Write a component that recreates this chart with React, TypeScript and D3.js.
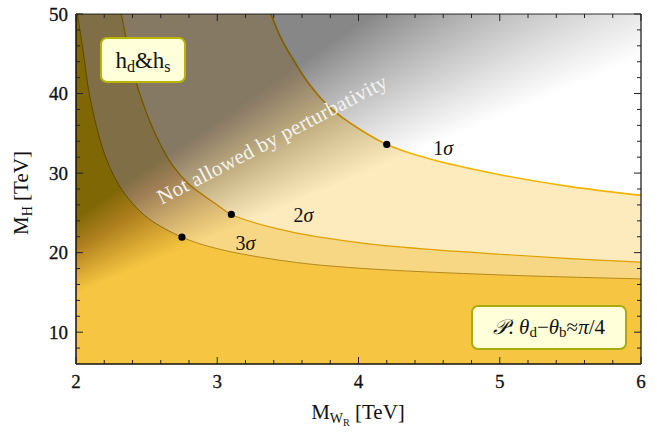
import React from "react";
import * as d3 from "d3";

const W = 657;
const H = 433;

const xDomain = [2, 6];
const yDomain = [6, 50];
const xTicks = [2, 3, 4, 5, 6];
const yTicks = [10, 20, 30, 40, 50];
const xMinorTicks = [2.2, 2.4, 2.6, 2.8, 3.2, 3.4, 3.6, 3.8, 4.2, 4.4, 4.6, 4.8, 5.2, 5.4, 5.6, 5.8];
const yMinorTicks = [8, 12, 14, 16, 18, 22, 24, 26, 28, 32, 34, 36, 38, 42, 44, 46, 48];

// contour curves (M_WR [TeV], M_H [TeV])
const sigma1X = [3.38, 3.45, 3.54, 3.65, 3.8, 4.0, 4.2, 4.5, 5.0, 5.5, 6.0];
const sigma1Y = [50, 47, 44.2, 41.2, 38.2, 35.6, 33.6, 31.8, 29.8, 28.3, 27.2];
const sigma2X = [2.32, 2.36, 2.4, 2.5, 2.6, 2.69, 2.8, 3.0, 3.1, 3.5, 4.0, 4.5, 5.0, 5.5, 6.0];
const sigma2Y = [50, 46.5, 43, 37.5, 33.5, 30.8, 28.6, 26.0, 24.8, 22.7, 21.25, 20.4, 19.8, 19.25, 18.8];
const sigma3X = [2.01, 2.05, 2.1, 2.2, 2.3, 2.4, 2.52, 2.75, 3.0, 3.5, 4.0, 5.0, 6.0];
const sigma3Y = [50, 45.4, 39.4, 32.5, 28.6, 26.2, 24.2, 21.95, 20.5, 18.9, 18.05, 17.2, 16.7];

const dotX = [4.2, 3.1, 2.75];
const dotY = [33.6, 24.8, 21.95];
const sigmaLabels = ["1", "2", "3"];
const sigmaLabelX = [4.6, 3.61, 3.2];
const sigmaLabelY = [33.1, 24.7, 21.2];

// perturbativity shading: ratio M_H / M_WR where shading fades in
const ratioStart = 7.4;
const ratioEnd = 12.2;

const SERIF = "'Liberation Serif', 'DejaVu Serif', serif";

export default function App() {
  const x = d3.scaleLinear().domain(xDomain).range([76, 641]);
  const y = d3.scaleLinear().domain(yDomain).range([364, 14]);
  const line = d3
    .line<[number, number]>()
    .x((d) => x(d[0]))
    .y((d) => y(d[1]))
    .curve(d3.curveCatmullRom.alpha(0.5));
  const pts = (xs: number[], ys: number[]): [number, number][] => xs.map((v, i) => [v, ys[i]] as [number, number]);
  const c1 = pts(sigma1X, sigma1Y);
  const c2 = pts(sigma2X, sigma2Y);
  const c3 = pts(sigma3X, sigma3Y);
  const areaPath = (p: [number, number][]) =>
    (line(p) as string) + `L${x(6)},${y(6)}L${x(2)},${y(6)}L${x(2)},${y(50)}Z`;

  const N = 60;
  const maxA = 0.4;
  const op = 1 - Math.pow(1 - maxA, 1 / N);
  const layers = d3.range(N).map((k) => ratioStart + ((ratioEnd - ratioStart) * (k + 0.5)) / N);

  const x0 = 76, x1 = 641, yT = 14, yB = 364;

  return (
    <svg width={W} height={H} style={{ position: "absolute", left: 0, top: 0, background: "#fff" }}>
      <defs>
        <clipPath id="plotClip">
          <rect x={x0} y={yT} width={x1 - x0} height={yB - yT} />
        </clipPath>
      </defs>
      <g clipPath="url(#plotClip)">
        <rect x={x0} y={yT} width={x1 - x0} height={yB - yT} fill="#ffffff" />
        <path d={areaPath(c1)} fill="#FDEBBE" />
        <path d={areaPath(c2)} fill="#F8D784" />
        <path d={areaPath(c3)} fill="#F6C642" />
        <path d={line(c1) as string} fill="none" stroke="#F2B400" strokeWidth={1.6} />
        <path d={line(c2) as string} fill="none" stroke="#DCA000" strokeWidth={1.2} />
        <path d={line(c3) as string} fill="none" stroke="#B58818" strokeWidth={1} />
        {layers.map((r, i) => (
          <path
            key={i}
            d={`M${x(2)},${y(2 * r)}L${x(6)},${y(6 * r)}L${x(6)},${y(400)}L${x(2)},${y(400)}Z`}
            fill="#000"
            fillOpacity={op}
          />
        ))}
        <text
          transform={`translate(272,139) rotate(-27.5)`}
          textAnchor="middle"
          dy="0.35em"
          fontFamily={SERIF}
          fontSize={21}
          textLength={256}
          lengthAdjust="spacing"
          fill="#f4f4f4"
        >
          Not allowed by perturbativity
        </text>
      </g>
      {dotX.map((d, i) => (
        <circle key={i} cx={x(d)} cy={y(dotY[i])} r={3.6} fill="#000" />
      ))}
      {sigmaLabels.map((s, i) => (
        <text key={i} x={x(sigmaLabelX[i])} y={y(sigmaLabelY[i])} dy="0.35em" textAnchor="middle" fontFamily={SERIF} fontSize={20} fill="#111">
          {s}
          <tspan fontStyle="italic">σ</tspan>
        </text>
      ))}

      {/* label boxes */}
      <rect x={101} y={38} width={84} height={44} rx={6} fill="#FFFFD9" stroke="#B9B400" strokeWidth={2} />
      <text x={143} y={68} textAnchor="middle" fontFamily={SERIF} fontSize={23} fill="#111">
        h<tspan fontSize={16} dy={4}>d</tspan>
        <tspan dy={-4}>&amp;h</tspan>
        <tspan fontSize={16} dy={4}>s</tspan>
      </text>
      <rect x={472} y={306} width={154} height={43} rx={6} fill="#FFFFD9" stroke="#A9AC10" strokeWidth={2} />
      <text x={549} y={334} textAnchor="middle" fontFamily={SERIF} fontSize={21} fill="#111">
        <tspan fontFamily="'DejaVu Sans', serif" fontStyle="italic">𝒫</tspan>
        <tspan>: </tspan>
        <tspan fontStyle="italic">θ</tspan>
        <tspan fontSize={15} dy={3}>d</tspan>
        <tspan dy={-3}>−</tspan>
        <tspan fontStyle="italic">θ</tspan>
        <tspan fontSize={15} dy={3}>b</tspan>
        <tspan dy={-3}>≈</tspan>
        <tspan fontStyle="italic">π</tspan>
        <tspan>/4</tspan>
      </text>

      {/* frame */}
      <line x1={x0} y1={yT} x2={x1} y2={yT} stroke="#000" strokeOpacity={0.4} strokeWidth={2} />
      <line x1={x0} y1={yB} x2={x1} y2={yB} stroke="#111" strokeWidth={1.5} />
      <line x1={x0} y1={yT} x2={x0} y2={yB} stroke="#111" strokeWidth={1.5} />
      <line x1={x1} y1={yT} x2={x1} y2={yB} stroke="#222" strokeWidth={1.3} />

      {/* ticks */}
      {xTicks.map((t) => (
        <g key={"xt" + t}>
          <line x1={x(t)} x2={x(t)} y1={yB} y2={yB - 7} stroke="#222" />
          <line x1={x(t)} x2={x(t)} y1={yT} y2={yT + 7} stroke="#222" />
          <text x={x(t)} y={388} textAnchor="middle" fontFamily={SERIF} fontSize={19} fill="#111" stroke="#111" strokeWidth={0.3}>
            {t}
          </text>
        </g>
      ))}
      {xMinorTicks.map((t) => (
        <g key={"xm" + t}>
          <line x1={x(t)} x2={x(t)} y1={yB} y2={yB - 4} stroke="#222" />
          <line x1={x(t)} x2={x(t)} y1={yT} y2={yT + 4} stroke="#222" />
        </g>
      ))}
      {yTicks.map((t) => (
        <g key={"yt" + t}>
          <line x1={x0} x2={x0 + 7} y1={y(t)} y2={y(t)} stroke="#222" />
          <line x1={x1} x2={x1 - 7} y1={y(t)} y2={y(t)} stroke="#222" />
          <text x={68} y={y(t)} dy="0.35em" textAnchor="end" fontFamily={SERIF} fontSize={19} fill="#111" stroke="#111" strokeWidth={0.3}>
            {t}
          </text>
        </g>
      ))}
      {yMinorTicks.map((t) => (
        <g key={"ym" + t}>
          <line x1={x0} x2={x0 + 4} y1={y(t)} y2={y(t)} stroke="#222" />
          <line x1={x1} x2={x1 - 4} y1={y(t)} y2={y(t)} stroke="#222" />
        </g>
      ))}

      {/* axis labels */}
      <text x={358} y={419} textAnchor="middle" fontFamily={SERIF} fontSize={21} fill="#111">
        M<tspan fontSize={14} dy={4}>W</tspan>
        <tspan fontSize={10} dy={3}>R</tspan>
        <tspan dy={-7}> [TeV]</tspan>
      </text>
      <text transform="translate(28,193) rotate(-90)" textAnchor="middle" fontFamily={SERIF} fontSize={21} fill="#111">
        M<tspan fontSize={14} dy={4}>H</tspan>
        <tspan dy={-4}> [TeV]</tspan>
      </text>
    </svg>
  );
}
